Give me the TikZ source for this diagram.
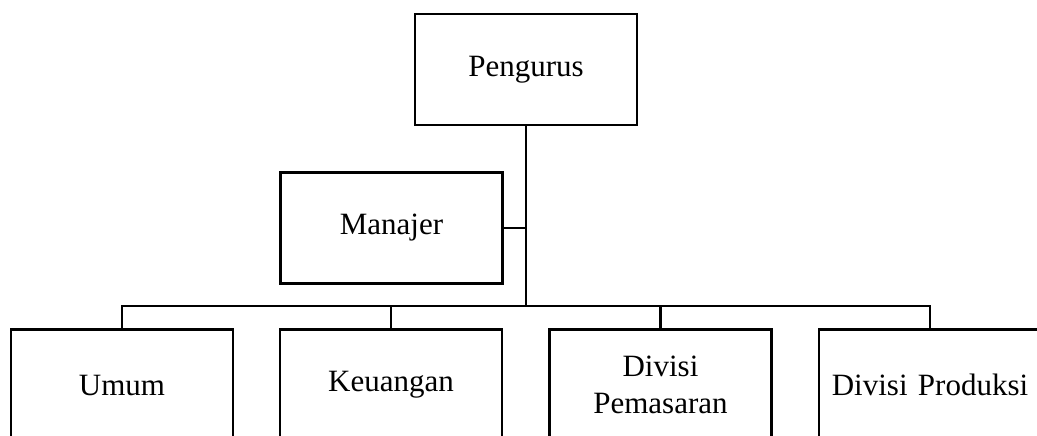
\documentclass[tikz,border=0pt]{standalone}
\usepackage{fontspec}
\setmainfont{Liberation Serif}
\begin{document}
\begin{tikzpicture}[x=1pt,y=-1pt,
  box/.style={draw,line width=2.6pt,minimum width=222pt,minimum height=111pt,inner sep=0pt,align=center,font=\fontsize{31}{37}\selectfont},
  conn/.style={line width=2.8pt}]
\useasboundingbox (0,0) rectangle (1037,436);
\clip (0,0) rectangle (1037,436);
\node[box] (peng) at (526,69.5) {Pengurus};
\node[box] (man) at (391.5,228) {Manajer};
\node[box] (umum) at (122,385) {Umum};
\node[box] (keu) at (391,385) {Keuangan};
\node[box] (pem) at (660.5,385) {Divisi\\Pemasaran};
\node[box] (prod) at (930,385) {Divisi\,\,Produksi};
\coordinate (mid) at (526,306);
\coordinate (manj) at (526,228);
\draw[conn] (peng.south) -- (mid);
\draw[line width=1.8pt] (man.east) -- (manj);
\draw[conn] (umum.north) -- (umum.north |- mid) -- (prod.north |- mid) -- (prod.north);
\draw[conn] (keu.north) -- (keu.north |- mid);
\draw[conn] (pem.north) -- (pem.north |- mid);
\end{tikzpicture}
\end{document}
